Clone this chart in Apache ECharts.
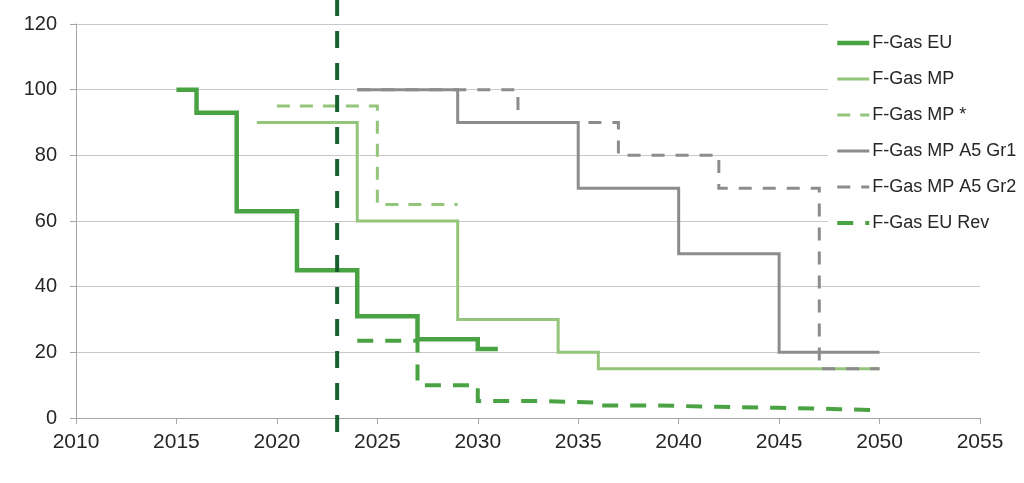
<!DOCTYPE html>
<html>
<head>
<meta charset="utf-8">
<script src="https://cdn.jsdelivr.net/npm/echarts@6/dist/echarts.min.js"></script>
<style>
html,body{margin:0;padding:0;background:#fff;}
#chart{width:1024px;height:483px;}
</style>
</head>
<body>
<div id="chart"></div>
<script>
// Step breakpoints (years) and values held between them
var euYears = [2015, 2016, 2018, 2021, 2024, 2027, 2030, 2031];
var euVals = [100, 93, 63, 45, 31, 24, 21];
var mpYears = [2019, 2024, 2029, 2034, 2036, 2050];
var mpVals = [90, 60, 30, 20, 15];
var mpStarYears = [2020, 2025, 2029];
var mpStarVals = [95, 65];
var gr1Years = [2024, 2029, 2035, 2040, 2045, 2050];
var gr1Vals = [100, 90, 70, 50, 20];
var gr2Years = [2024, 2032, 2037, 2042, 2047, 2050];
var gr2Vals = [100, 90, 80, 70, 15];
var revYears = [2024, 2027, 2030, 2033, 2036, 2039, 2042, 2045, 2048, 2050];
var revVals = [23.5, 10, 5.2, 4.7, 3.8, 3.4, 3.1, 2.7, 2.4];
var markerYear = 2023;
var markerExtent = [-4.3, 127.3];
var seriesNames = ['F-Gas EU', 'F-Gas MP', 'F-Gas MP *', 'F-Gas MP A5 Gr1', 'F-Gas MP A5 Gr2', 'F-Gas EU Rev'];

function steps(xs, ys) {
  var pts = [];
  for (var i = 0; i < ys.length; i++) {
    pts.push([xs[i], ys[i]]);
    pts.push([xs[i + 1], ys[i]]);
  }
  return pts;
}

var GREEN = '#4aa342', LIGHT = '#93c57b', GREY = '#8c8c8c', DARK = '#17602e';

function lineSeries(name, data, color, width, dash, z) {
  return {
    name: name, type: 'line', data: data, symbol: 'none', z: z || 2,
    lineStyle: { color: color, width: width, type: dash || 'solid', join: 'miter', cap: 'butt' },
    itemStyle: { color: 'rgba(0,0,0,0)', borderWidth: 0, borderColor: 'rgba(0,0,0,0)' },
    emphasis: { disabled: true },
    animation: false
  };
}

var chart = echarts.init(document.getElementById('chart'));
chart.setOption({
  animation: false,
  grid: { left: 76, right: 44, top: 24, bottom: 65 },
  legend: {
    data: seriesNames,
    orient: 'vertical',
    left: 828, top: 20,
    padding: [14, 8, 14, 7],
    backgroundColor: '#ffffff',
    itemWidth: 32, itemHeight: 14, itemGap: 18,
    itemStyle: { color: 'rgba(0,0,0,0)', borderWidth: 0, opacity: 0 },
    lineStyle: { width: 'inherit' },
    textStyle: { fontFamily: 'Liberation Sans, Arial', fontSize: 18, color: '#262626', padding: [0, 0, 0, -2] }
  },
  xAxis: {
    type: 'value', min: 2010, max: 2055, interval: 5,
    axisLine: { show: true, lineStyle: { color: '#a6a6a6', width: 1 } },
    axisTick: { show: true, length: 6, lineStyle: { color: '#a6a6a6' } },
    axisLabel: { fontFamily: 'Liberation Sans, Arial', fontSize: 21, color: '#262626', margin: 14,
      formatter: function (v) { return String(v); } },
    splitLine: { show: false }
  },
  yAxis: {
    type: 'value', min: 0, max: 120, interval: 20,
    axisLine: { show: true, lineStyle: { color: '#a6a6a6', width: 1 } },
    axisTick: { show: true, length: 6, lineStyle: { color: '#a6a6a6' } },
    axisLabel: { fontFamily: 'Liberation Sans, Arial', fontSize: 20, color: '#262626', margin: 19 },
    splitLine: { show: true, lineStyle: { color: '#c8c8c8', width: 1 } }
  },
  series: [
    lineSeries('F-Gas MP', steps(mpYears, mpVals), LIGHT, 3),
    lineSeries('F-Gas MP *', steps(mpStarYears, mpStarVals), LIGHT, 3, [13, 10]),
    lineSeries('F-Gas MP A5 Gr2', steps(gr2Years, gr2Vals), GREY, 3, [13, 11]),
    lineSeries('F-Gas MP A5 Gr1', steps(gr1Years, gr1Vals), GREY, 3),
    lineSeries('F-Gas EU Rev', steps(revYears, revVals), GREEN, 4, [16, 12]),
    lineSeries('F-Gas EU', steps(euYears, euVals), GREEN, 4.5),
    (function () {
      var s = lineSeries('2023', [[markerYear, markerExtent[0]], [markerYear, markerExtent[1]]], DARK, 4, [17, 15], 5);
      s.clip = false;
      return s;
    })()
  ]
});
</script>
</body>
</html>
